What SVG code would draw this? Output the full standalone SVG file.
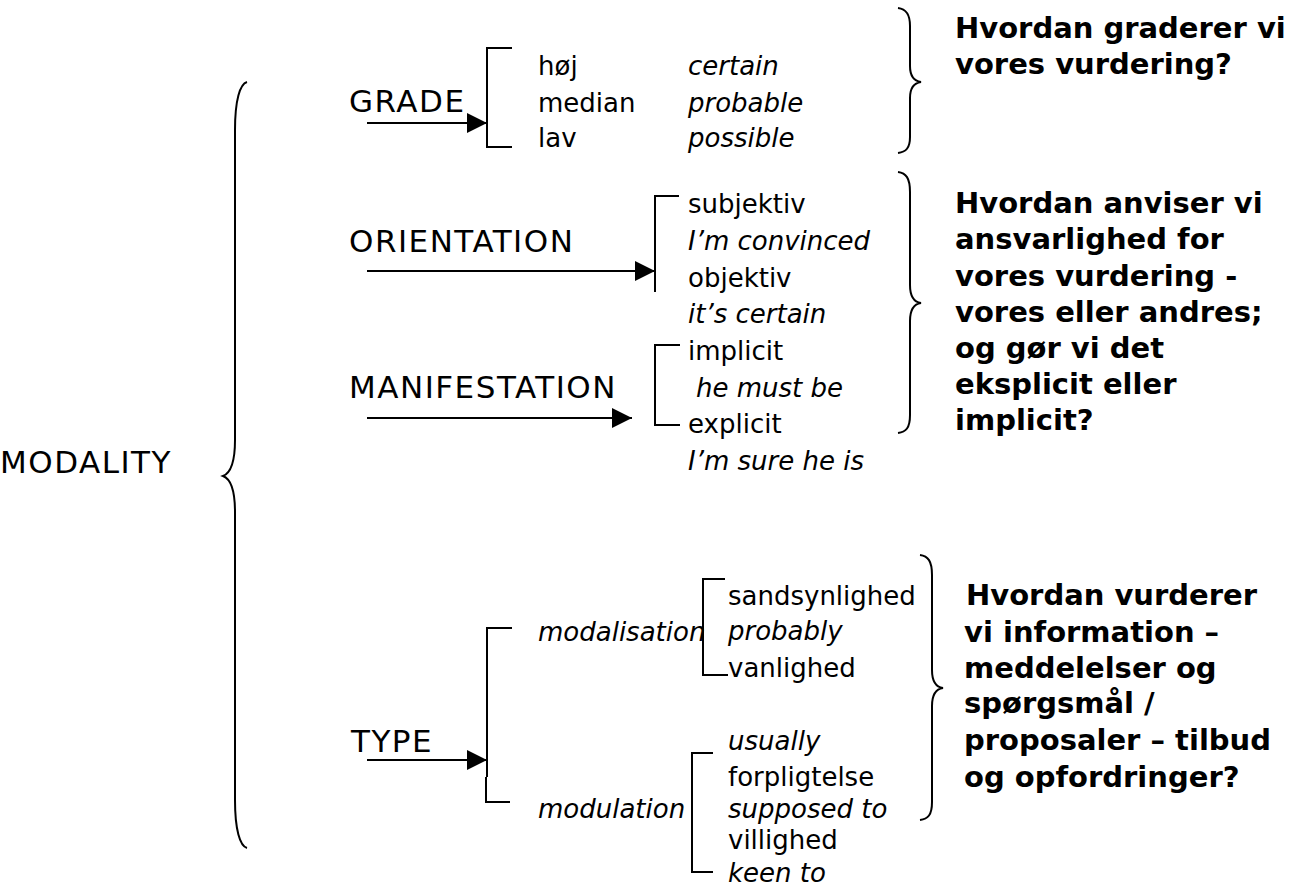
<svg xmlns="http://www.w3.org/2000/svg" width="1298" height="886" viewBox="0 0 1298 886">
  <defs>
    <marker id="head" markerWidth="20" markerHeight="20" refX="20" refY="10" orient="auto" markerUnits="userSpaceOnUse">
      <path d="M0,0 L20,10 L0,20 Z" fill="#000"/>
    </marker>
    <style>
      text { font-family: "DejaVu Sans", Verdana, sans-serif; fill: #000; }
      .topic { font-size: 31px; letter-spacing: 1.5px; }
      .term { font-size: 26px; }
      .ex { font-size: 26px; font-style: italic; }
      .q { font-size: 29px; font-weight: bold; }
      .ln { fill: none; stroke: #000; stroke-width: 2; }
      .arrow { fill: none; stroke: #000; stroke-width: 2; marker-end: url(#head); }
    </style>
  </defs>
  <rect width="1298" height="886" fill="#fff"/>

  <!-- connectors: arrows, brackets and braces -->
  <g id="connectors">
    <!-- braces -->
    <path class="ln" d="M247,82 C240,84 235,100 235,130 L235,440 C235,462 231,473 223,476 C231,479 235,490 235,512 L235,800 C235,830 240,846 247,848"/>
    <path class="ln" d="M898,8 C906,9 910,14 910,26 L910,66 C910,76 914,81 921,82 C914,83 910,88 910,98 L910,137 C910,148 906,152 898,153"/>
    <path class="ln" d="M898,172 C906,173 910,178 910,192 L910,285 C910,296 914,302 921,303 C914,304 910,310 910,321 L910,415 C910,428 906,432 898,433"/>
    <path class="ln" d="M920,555 C928,556 932,561 932,575 L932,670 C932,681 936,687 943,688 C936,689 932,695 932,706 L932,802 C932,815 928,819 920,820"/>

    <!-- arrows into the brackets -->
    <line class="arrow" x1="367" y1="123" x2="487" y2="123"/>
    <line class="arrow" x1="367" y1="271" x2="655" y2="271"/>
    <line class="arrow" x1="367" y1="418" x2="632" y2="418"/>
    <line class="arrow" x1="367" y1="760" x2="487" y2="760"/>

    <!-- brackets -->
    <path class="ln" d="M512,48 L487,48 L487,147 L512,147"/>
    <path class="ln" d="M679,196 L655,196 L655,292"/>
    <path class="ln" d="M680,345 L655,345 L655,425 L680,425"/>
    <path class="ln" d="M512,628 L487,628 L487,777"/>
    <path class="ln" d="M486,777 L486,802 L510,802"/>
    <path class="ln" d="M725,579 L703,579 L703,675 L728,675"/>
    <path class="ln" d="M713,753 L692,753 L692,872 L713,872"/>
  </g>

  <g id="modality">
    <text class="topic" x="172" y="473" text-anchor="end">MODALITY</text>
  </g>

  <g id="grade">
    <text class="topic" x="349" y="112">GRADE</text>
  </g>
  <g id="grade-values">
    <text class="term" x="538" y="75">høj</text>
    <text class="term" x="538" y="112">median</text>
    <text class="term" x="538" y="147">lav</text>
    <text class="ex" x="688" y="75">certain</text>
    <text class="ex" x="688" y="112">probable</text>
    <text class="ex" x="688" y="147">possible</text>
  </g>
  <g id="grade-question">
    <text class="q" x="955" y="38">Hvordan graderer vi</text>
    <text class="q" x="955" y="74">vores vurdering?</text>
  </g>

  <g id="orientation">
    <text class="topic" x="349" y="252">ORIENTATION</text>
  </g>
  <g id="orientation-values">
    <text class="term" x="688" y="213">subjektiv</text>
    <text class="ex" x="688" y="250">I’m convinced</text>
    <text class="term" x="688" y="287">objektiv</text>
    <text class="ex" x="688" y="323">it’s certain</text>
  </g>

  <g id="manifestation">
    <text class="topic" x="349" y="398">MANIFESTATION</text>
  </g>
  <g id="manifestation-values">
    <text class="term" x="688" y="360">implicit</text>
    <text class="ex" x="696" y="397">he must be</text>
    <text class="term" x="688" y="433">explicit</text>
    <text class="ex" x="688" y="470">I’m sure he is</text>
  </g>

  <g id="responsibility-question">
    <text class="q" x="955" y="213">Hvordan anviser vi</text>
    <text class="q" x="955" y="249">ansvarlighed for</text>
    <text class="q" x="955" y="286">vores vurdering -</text>
    <text class="q" x="955" y="322">vores eller andres;</text>
    <text class="q" x="955" y="358">og gør vi det</text>
    <text class="q" x="955" y="394">eksplicit eller</text>
    <text class="q" x="955" y="430">implicit?</text>
  </g>

  <g id="type">
    <text class="topic" x="351" y="752">TYPE</text>
  </g>
  <g id="modalisation">
    <text class="ex" x="538" y="641">modalisation</text>
    <text class="term" x="728" y="605">sandsynlighed</text>
    <text class="ex" x="728" y="640">probably</text>
    <text class="term" x="728" y="677">vanlighed</text>
  </g>
  <g id="modulation">
    <text class="ex" x="538" y="818">modulation</text>
    <text class="ex" x="728" y="750">usually</text>
    <text class="term" x="728" y="786">forpligtelse</text>
    <text class="ex" x="728" y="818">supposed to</text>
    <text class="term" x="728" y="849">villighed</text>
    <text class="ex" x="728" y="882">keen to</text>
  </g>
  <g id="type-question">
    <text class="q" x="966" y="605">Hvordan vurderer</text>
    <text class="q" x="964" y="642">vi information –</text>
    <text class="q" x="964" y="678">meddelelser og</text>
    <text class="q" x="964" y="713">spørgsmål /</text>
    <text class="q" x="964" y="750">proposaler – tilbud</text>
    <text class="q" x="964" y="787">og opfordringer?</text>
  </g>
</svg>
